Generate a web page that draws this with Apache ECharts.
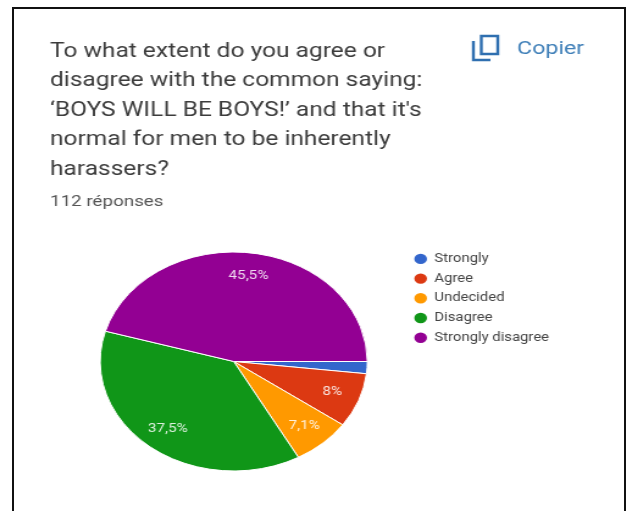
<!DOCTYPE html>
<html>
<head>
<meta charset="utf-8">
<script src="https://cdn.jsdelivr.net/npm/echarts@6/dist/echarts.min.js"></script>
<style>
  html, body { margin: 0; padding: 0; background: #fff; overflow: hidden; }
  #frame { position: absolute; left: 12px; top: 7px; width: 614px; height: 520px; border: 2px solid #111; box-sizing: border-box; }
  /* The whole card is drawn at a narrower width and widened to fill the window */
  #chart { position: absolute; left: 0; top: 0; width: 515.6px; height: 511px; transform: scaleX(1.22); transform-origin: 0 0; }
</style>
</head>
<body>
<div id="frame"></div>
<div id="chart"></div>
<script>
const question = [
  'To what extent do you agree or',
  'disagree with the common saying:',
  '\u2018BOYS WILL BE BOYS!\u2019 and that it\'s',
  'normal for men to be inherently',
  'harassers?'
];
const responsesLabel = '112 réponses';
const copyLabel = 'Copier';
const categories = ['Strongly', 'Agree', 'Undecided', 'Disagree', 'Strongly disagree'];
const responseCounts = [2, 9, 8, 42, 51];
const sliceColors = ['#3366cc', '#dc3912', '#ff9900', '#109618', '#930093'];

const pieCenter = [191.6, 361.5];
const pieRadius = 109.5;
const labelRadius = pieRadius * 0.79;
const total = responseCounts.reduce((a, b) => a + b, 0);

function percentText(value) {
  return (value / total * 100).toFixed(1).replace('.', ',').replace(',0', '') + '%';
}

// Slices run clockwise from three o'clock; labels sit towards the rim
function labelPoint(index) {
  const before = responseCounts.slice(0, index).reduce((a, b) => a + b, 0);
  const mid = (before + responseCounts[index] / 2) / total * 2 * Math.PI;
  return {
    x: pieCenter[0] + labelRadius * Math.cos(mid),
    y: pieCenter[1] + labelRadius * Math.sin(mid)
  };
}

const chart = echarts.init(document.getElementById('chart'));
chart.setOption({
  animation: false,
  title: [
    {
      text: question.join('\n'),
      left: 41, top: 37, padding: 0,
      textStyle: { fontFamily: 'Roboto', fontSize: 20.1, fontWeight: 400, color: '#3c3c3c', lineHeight: 29.5 }
    },
    {
      text: responsesLabel,
      left: 41, top: 194, padding: 0,
      textStyle: { fontFamily: 'Roboto', fontSize: 15.4, fontWeight: 400, color: '#555', lineHeight: 16 }
    },
    {
      text: copyLabel,
      left: 423.8, top: 39, padding: 0,
      textStyle: { fontFamily: 'Roboto', fontSize: 19, fontWeight: 400, color: '#3f7fb8', lineHeight: 20 }
    }
  ],
  legend: {
    data: categories,
    orient: 'vertical',
    left: 337.6, top: 251.7, padding: 0,
    icon: 'circle',
    itemWidth: 12.4, itemHeight: 12.4, itemGap: 5.3,
    textStyle: { fontFamily: 'Roboto', fontSize: 12.2, color: '#444', lineHeight: 12 }
  },
  graphic: [
    { type: 'rect', shape: { x: 394.5, y: 36, width: 13.5, height: 18 },
      style: { fill: 'none', stroke: '#2f6fb0', lineWidth: 2.4 } },
    { type: 'polyline', shape: { points: [[388, 41], [388, 60], [402, 60]] },
      style: { fill: 'none', stroke: '#2f6fb0', lineWidth: 2.4 } }
  ],
  series: [{
    type: 'pie',
    center: pieCenter,
    radius: [0, pieRadius],
    startAngle: 0,
    clockwise: true,
    silent: true,
    color: sliceColors,
    itemStyle: { borderColor: '#fff', borderWidth: 1 },
    labelLine: { show: false },
    label: {
      show: true,
      position: 'inside',
      fontFamily: 'Roboto',
      fontSize: 12.5,
      color: '#fff',
      opacity: 0.85,
      formatter: p => p.value / total < 0.05 ? '' : percentText(p.value)
    },
    labelLayout: p => labelPoint(p.dataIndex),
    data: categories.map((name, i) => ({ name, value: responseCounts[i] }))
  }]
});
</script>
</body>
</html>
